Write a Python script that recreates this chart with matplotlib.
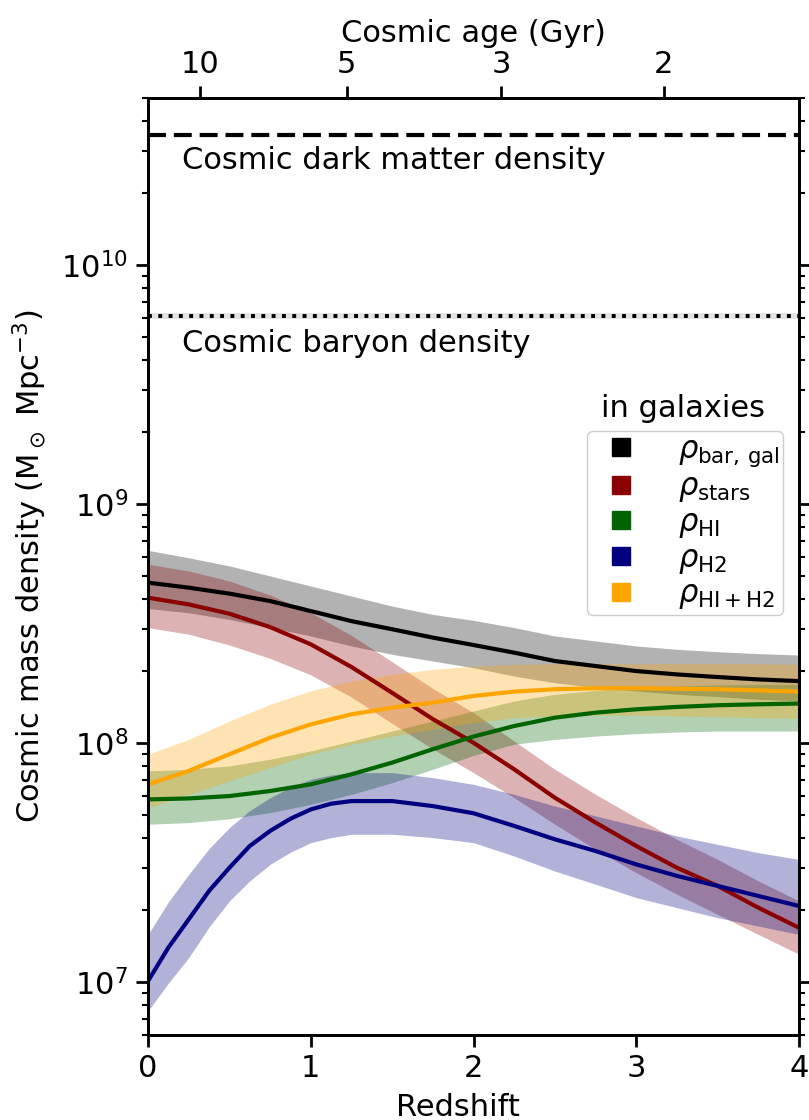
import numpy as np
import matplotlib
matplotlib.use('Agg')
from matplotlib import pyplot as plt
from matplotlib.lines import Line2D

# redshift grid the curves were read on
z = [0, 0.25, 0.5, 0.75, 1, 1.25, 1.5, 1.75, 2, 2.25, 2.5, 2.75, 3, 3.25, 3.5, 3.75, 4]
# H2 bends fast at low z, read on a finer grid there
z_h2 = [0, 0.125, 0.25, 0.375, 0.5, 0.625, 0.75, 0.875, 1, 1.125, 1.25, 1.5, 1.75, 2, 2.25, 2.5, 2.75, 3, 3.25, 3.5, 3.75, 4]

# log10 densities (Msun Mpc^-3), line and band edges
log_bar = [8.671, 8.650, 8.625, 8.594, 8.552, 8.510, 8.476, 8.441, 8.410, 8.378, 8.343, 8.322, 8.301, 8.287, 8.276, 8.266, 8.259]
log_bar_hi = [8.806, 8.775, 8.741, 8.699, 8.657, 8.615, 8.573, 8.538, 8.513, 8.483, 8.448, 8.427, 8.406, 8.392, 8.382, 8.374, 8.368]
log_bar_lo = [8.563, 8.545, 8.517, 8.483, 8.448, 8.406, 8.371, 8.343, 8.315, 8.280, 8.252, 8.232, 8.218, 8.204, 8.194, 8.183, 8.176]

log_stars = [8.608, 8.580, 8.541, 8.485, 8.413, 8.318, 8.210, 8.100, 8.001, 7.890, 7.771, 7.667, 7.569, 7.478, 7.402, 7.311, 7.227]
log_stars_hi = [8.748, 8.720, 8.678, 8.619, 8.545, 8.450, 8.340, 8.228, 8.127, 8.008, 7.890, 7.785, 7.688, 7.597, 7.513, 7.423, 7.339]
log_stars_lo = [8.483, 8.455, 8.410, 8.354, 8.285, 8.192, 8.082, 7.975, 7.876, 7.771, 7.660, 7.555, 7.457, 7.367, 7.283, 7.199, 7.116]

log_hi = [7.764, 7.768, 7.778, 7.799, 7.827, 7.869, 7.918, 7.974, 8.027, 8.071, 8.106, 8.127, 8.141, 8.151, 8.158, 8.162, 8.165]
log_hi_hi = [7.883, 7.890, 7.904, 7.932, 7.967, 8.008, 8.050, 8.092, 8.134, 8.176, 8.204, 8.220, 8.232, 8.238, 8.243, 8.245, 8.245]
log_hi_lo = [7.660, 7.667, 7.683, 7.709, 7.743, 7.785, 7.834, 7.890, 7.948, 7.995, 8.015, 8.029, 8.039, 8.046, 8.050, 8.050, 8.050]

log_h2 = [7.004, 7.144, 7.262, 7.381, 7.478, 7.569, 7.632, 7.683, 7.722, 7.746, 7.757, 7.757, 7.736, 7.706, 7.653, 7.597, 7.548, 7.492, 7.444, 7.402, 7.360, 7.318]
log_h2_hi = [7.199, 7.335, 7.450, 7.558, 7.646, 7.717, 7.771, 7.815, 7.848, 7.866, 7.876, 7.876, 7.855, 7.827, 7.785, 7.736, 7.695, 7.653, 7.611, 7.576, 7.541, 7.513]
log_h2_lo = [6.879, 6.995, 7.102, 7.230, 7.339, 7.423, 7.492, 7.543, 7.583, 7.604, 7.618, 7.618, 7.604, 7.583, 7.527, 7.464, 7.409, 7.353, 7.311, 7.269, 7.234, 7.199]

log_hih2 = [7.827, 7.883, 7.953, 8.022, 8.078, 8.120, 8.148, 8.169, 8.197, 8.215, 8.225, 8.229, 8.229, 8.227, 8.225, 8.220, 8.215]
log_hih2_hi = [7.953, 8.015, 8.092, 8.162, 8.218, 8.259, 8.287, 8.308, 8.322, 8.329, 8.332, 8.332, 8.332, 8.332, 8.332, 8.332, 8.329]
log_hih2_lo = [7.729, 7.785, 7.841, 7.897, 7.953, 7.994, 8.029, 8.057, 8.085, 8.106, 8.113, 8.116, 8.116, 8.113, 8.110, 8.106, 8.103]

# cosmic reference densities
rho_dm = 3.5e10
rho_baryon = 6.1e9
rho_baryon_err = [5.95e9, 6.3e9]

# top axis: cosmic age ticks
age_labels = ['10', '5', '3', '2']
age_z = [0.32, 1.22, 2.17, 3.17]

series = [
    (r'$\rho_{\rm bar,\,gal}$', 'black', z, log_bar, log_bar_lo, log_bar_hi),
    (r'$\rho_{\rm stars}$', 'darkred', z, log_stars, log_stars_lo, log_stars_hi),
    (r'$\rho_{\rm HI}$', 'darkgreen', z, log_hi, log_hi_lo, log_hi_hi),
    (r'$\rho_{\rm H2}$', 'navy', z_h2, log_h2, log_h2_lo, log_h2_hi),
    (r'$\rho_{\rm HI+H2}$', 'orange', z, log_hih2, log_hih2_lo, log_hih2_hi),
]

fs = 22
fig = plt.figure(figsize=(8.09, 11.2), dpi=100)
ax = fig.add_axes([0.183, 0.0759, 0.8046, 0.8366])

for lab, col, zz, mid, lo, hi in series:
    ax.fill_between(zz, 10**np.array(lo), 10**np.array(hi), color=col, alpha=0.3, lw=0)
for lab, col, zz, mid, lo, hi in series:
    ax.plot(zz, 10**np.array(mid), color=col, lw=3, solid_joinstyle='round')

ax.axhline(rho_dm, color='black', lw=3, dashes=(4.3, 1.9))
ax.axhspan(rho_baryon_err[0], rho_baryon_err[1], color='lightgrey', alpha=0.6, lw=0)
ax.axhline(rho_baryon, color='black', lw=2.8, ls=':')

ax.text(0.21, 2.52e10, 'Cosmic dark matter density', fontsize=fs, va='baseline')
ax.text(0.21, 4.33e9, 'Cosmic baryon density', fontsize=fs, va='baseline')

ax.set_yscale('log')
ax.set_xlim(0, 4)
ax.set_ylim(6e6, 5e10)
ax.set_xticks([0, 1, 2, 3, 4])
ax.set_xlabel('Redshift', fontsize=fs)
ax.xaxis.set_label_coords(0.476, -0.062)
ax.set_ylabel(r'Cosmic mass density (M$_\odot$ Mpc$^{-3}$)', fontsize=fs)
ax.yaxis.set_label_coords(-0.152, 0.5)

for s in ax.spines.values():
    s.set_linewidth(2)
ax.tick_params(which='major', length=8.5, width=2, labelsize=fs, right=True)
ax.tick_params(axis='x', pad=5)
ax.tick_params(axis='y', pad=6)
ax.tick_params(which='minor', length=4.5, width=1.5, right=True)

handles = [Line2D([], [], ls='none', marker='s', markersize=13, color=s[1]) for s in series]
leg = ax.legend(handles, [s[0] for s in series], loc='upper right',
                bbox_to_anchor=(0.976, 0.645), fontsize=fs, handlelength=2.0,
                handletextpad=0.85, labelspacing=0.12, borderpad=0.13,
                borderaxespad=0, framealpha=1)
ax.text(0.822, 0.66, 'in galaxies', transform=ax.transAxes, fontsize=fs,
        ha='center', va='baseline')

top = ax.twiny()
top.set_xlim(ax.get_xlim())
top.set_xticks(age_z)
top.set_xticklabels(age_labels)
top.set_xlabel('Cosmic age (Gyr)', fontsize=fs, labelpad=6)
top.tick_params(which='major', length=8.5, width=2, labelsize=fs, pad=5)
for s in top.spines.values():
    s.set_linewidth(2)

fig.savefig('out.png', dpi=100)
